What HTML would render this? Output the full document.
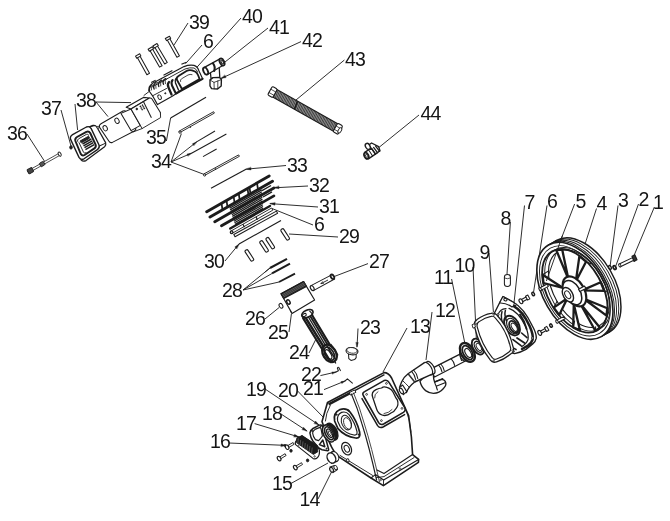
<!DOCTYPE html>
<html><head><meta charset="utf-8"><title>Exploded view</title>
<style>
html,body{margin:0;padding:0;background:#fff;}
svg{display:block;filter:grayscale(1);}
text{font-family:"Liberation Sans",sans-serif;font-size:19.5px;fill:#151515;letter-spacing:-0.8px;}
</style></head>
<body>
<svg width="670" height="521" viewBox="0 0 670 521">
<rect width="670" height="521" fill="#fff"/>
<g id="leaders">
<line x1="188.0" y1="23.0" x2="174.0" y2="45.0" stroke="#1c1c1c" stroke-width="0.92" />
<line x1="202.0" y1="45.0" x2="185.6" y2="63.6" stroke="#1c1c1c" stroke-width="0.92" />
<line x1="241.0" y1="18.0" x2="190.0" y2="75.0" stroke="#1c1c1c" stroke-width="0.92" />
<line x1="268.0" y1="28.0" x2="225.0" y2="62.0" stroke="#1c1c1c" stroke-width="0.92" />
<line x1="301.0" y1="41.6" x2="221.0" y2="78.5" stroke="#1c1c1c" stroke-width="0.92" />
<path d="M221.0,78.5 L226.1,77.6 L225.0,75.2 Z" fill="#1c1c1c" stroke="#1c1c1c" stroke-width="0.34" stroke-linejoin="round" stroke-linecap="round" />
<line x1="344.4" y1="60.0" x2="296.0" y2="100.0" stroke="#1c1c1c" stroke-width="0.92" />
<line x1="419.0" y1="115.0" x2="377.5" y2="148.6" stroke="#1c1c1c" stroke-width="0.92" />
<line x1="27.0" y1="134.0" x2="45.0" y2="162.0" stroke="#1c1c1c" stroke-width="0.92" />
<line x1="61.0" y1="110.0" x2="71.0" y2="146.0" stroke="#1c1c1c" stroke-width="0.92" />
<line x1="75.0" y1="104.0" x2="77.6" y2="130.0" stroke="#1c1c1c" stroke-width="0.92" />
<line x1="96.0" y1="102.0" x2="131.0" y2="102.6" stroke="#1c1c1c" stroke-width="0.92" />
<line x1="96.0" y1="102.0" x2="108.0" y2="116.6" stroke="#1c1c1c" stroke-width="0.92" />
<line x1="166.4" y1="141.0" x2="170.6" y2="118.0" stroke="#1c1c1c" stroke-width="0.92" />
<line x1="171.0" y1="162.0" x2="181.4" y2="133.6" stroke="#1c1c1c" stroke-width="0.92" />
<line x1="171.0" y1="162.0" x2="197.0" y2="141.6" stroke="#1c1c1c" stroke-width="0.92" />
<path d="M197.0,141.6 L192.4,143.8 L193.7,145.6 Z" fill="#1c1c1c" stroke="#1c1c1c" stroke-width="0.34" stroke-linejoin="round" stroke-linecap="round" />
<line x1="171.0" y1="162.0" x2="192.0" y2="153.0" stroke="#1c1c1c" stroke-width="0.92" />
<path d="M192.0,153.0 L187.0,154.0 L187.8,156.0 Z" fill="#1c1c1c" stroke="#1c1c1c" stroke-width="0.34" stroke-linejoin="round" stroke-linecap="round" />
<line x1="171.0" y1="162.0" x2="204.0" y2="174.4" stroke="#1c1c1c" stroke-width="0.92" />
<line x1="286.0" y1="165.5" x2="246.0" y2="169.2" stroke="#1c1c1c" stroke-width="0.92" />
<path d="M246.0,169.2 L251.1,170.0 L250.9,167.4 Z" fill="#1c1c1c" stroke="#1c1c1c" stroke-width="0.34" stroke-linejoin="round" stroke-linecap="round" />
<line x1="308.0" y1="186.0" x2="274.0" y2="187.8" stroke="#1c1c1c" stroke-width="0.92" />
<path d="M274.0,187.8 L279.1,188.8 L278.9,186.2 Z" fill="#1c1c1c" stroke="#1c1c1c" stroke-width="0.34" stroke-linejoin="round" stroke-linecap="round" />
<line x1="318.0" y1="207.0" x2="270.0" y2="203.6" stroke="#1c1c1c" stroke-width="0.92" />
<path d="M270.0,203.6 L274.9,205.3 L275.1,202.7 Z" fill="#1c1c1c" stroke="#1c1c1c" stroke-width="0.34" stroke-linejoin="round" stroke-linecap="round" />
<line x1="313.0" y1="225.0" x2="272.0" y2="208.5" stroke="#1c1c1c" stroke-width="0.92" />
<line x1="338.0" y1="237.0" x2="289.0" y2="234.0" stroke="#1c1c1c" stroke-width="0.92" />
<line x1="225.0" y1="261.0" x2="239.0" y2="244.0" stroke="#1c1c1c" stroke-width="0.92" />
<path d="M239.0,244.0 L234.8,247.0 L236.8,248.7 Z" fill="#1c1c1c" stroke="#1c1c1c" stroke-width="0.34" stroke-linejoin="round" stroke-linecap="round" />
<line x1="368.0" y1="263.6" x2="334.0" y2="276.6" stroke="#1c1c1c" stroke-width="0.92" />
<line x1="243.0" y1="290.0" x2="270.0" y2="268.0" stroke="#1c1c1c" stroke-width="0.92" />
<line x1="243.0" y1="290.0" x2="272.0" y2="273.5" stroke="#1c1c1c" stroke-width="0.92" />
<line x1="243.0" y1="290.0" x2="272.0" y2="283.6" stroke="#1c1c1c" stroke-width="0.92" />
<line x1="272.0" y1="283.6" x2="279.0" y2="282.0" stroke="#1c1c1c" stroke-width="0.92" />
<line x1="265.0" y1="319.0" x2="279.0" y2="307.6" stroke="#1c1c1c" stroke-width="0.92" />
<line x1="289.0" y1="332.0" x2="291.4" y2="314.0" stroke="#1c1c1c" stroke-width="0.92" />
<line x1="309.0" y1="353.0" x2="316.0" y2="339.0" stroke="#1c1c1c" stroke-width="0.92" />
<line x1="358.0" y1="328.5" x2="357.0" y2="347.0" stroke="#1c1c1c" stroke-width="0.92" />
<path d="M357.0,347.0 L358.3,342.6 L356.1,342.4 Z" fill="#1c1c1c" stroke="#1c1c1c" stroke-width="0.34" stroke-linejoin="round" stroke-linecap="round" />
<line x1="320.4" y1="375.6" x2="336.0" y2="372.0" stroke="#1c1c1c" stroke-width="0.92" />
<path d="M336.0,372.0 L331.9,371.9 L332.3,373.9 Z" fill="#1c1c1c" stroke="#1c1c1c" stroke-width="0.34" stroke-linejoin="round" stroke-linecap="round" />
<line x1="324.0" y1="389.6" x2="345.0" y2="381.0" stroke="#1c1c1c" stroke-width="0.92" />
<path d="M345.0,381.0 L340.9,381.6 L341.7,383.4 Z" fill="#1c1c1c" stroke="#1c1c1c" stroke-width="0.34" stroke-linejoin="round" stroke-linecap="round" />
<line x1="297.6" y1="391.0" x2="324.0" y2="418.0" stroke="#1c1c1c" stroke-width="0.92" />
<line x1="265.0" y1="389.0" x2="319.0" y2="425.0" stroke="#1c1c1c" stroke-width="0.92" />
<path d="M319.0,425.0 L315.6,421.1 L314.1,423.3 Z" fill="#1c1c1c" stroke="#1c1c1c" stroke-width="0.34" stroke-linejoin="round" stroke-linecap="round" />
<line x1="281.0" y1="414.0" x2="307.0" y2="431.0" stroke="#1c1c1c" stroke-width="0.92" />
<path d="M307.0,431.0 L303.5,427.2 L302.1,429.4 Z" fill="#1c1c1c" stroke="#1c1c1c" stroke-width="0.34" stroke-linejoin="round" stroke-linecap="round" />
<line x1="254.6" y1="423.6" x2="299.0" y2="437.0" stroke="#1c1c1c" stroke-width="0.92" />
<path d="M299.0,437.0 L294.6,434.3 L293.8,436.8 Z" fill="#1c1c1c" stroke="#1c1c1c" stroke-width="0.34" stroke-linejoin="round" stroke-linecap="round" />
<line x1="229.0" y1="443.0" x2="286.0" y2="445.4" stroke="#1c1c1c" stroke-width="0.92" />
<path d="M286.0,445.4 L281.1,443.9 L280.9,446.5 Z" fill="#1c1c1c" stroke="#1c1c1c" stroke-width="0.34" stroke-linejoin="round" stroke-linecap="round" />
<line x1="290.0" y1="484.0" x2="328.0" y2="463.0" stroke="#1c1c1c" stroke-width="0.92" />
<line x1="318.0" y1="499.0" x2="331.5" y2="472.0" stroke="#1c1c1c" stroke-width="0.92" />
<line x1="407.0" y1="328.0" x2="383.0" y2="372.0" stroke="#1c1c1c" stroke-width="0.92" />
<line x1="432.0" y1="312.0" x2="426.0" y2="360.0" stroke="#1c1c1c" stroke-width="0.92" />
<line x1="451.6" y1="279.0" x2="465.0" y2="344.0" stroke="#1c1c1c" stroke-width="0.92" />
<line x1="473.0" y1="267.0" x2="476.4" y2="340.0" stroke="#1c1c1c" stroke-width="0.92" />
<line x1="489.0" y1="253.0" x2="493.4" y2="312.0" stroke="#1c1c1c" stroke-width="0.92" />
<line x1="510.4" y1="222.0" x2="507.0" y2="274.0" stroke="#1c1c1c" stroke-width="0.92" />
<line x1="524.5" y1="205.5" x2="514.0" y2="303.0" stroke="#1c1c1c" stroke-width="0.92" />
<line x1="547.0" y1="205.5" x2="533.5" y2="292.5" stroke="#1c1c1c" stroke-width="0.92" />
<line x1="574.6" y1="204.0" x2="545.0" y2="281.0" stroke="#1c1c1c" stroke-width="0.92" />
<line x1="596.5" y1="208.5" x2="585.4" y2="243.0" stroke="#1c1c1c" stroke-width="0.92" />
<line x1="618.0" y1="205.5" x2="610.0" y2="267.0" stroke="#1c1c1c" stroke-width="0.92" />
<line x1="638.5" y1="204.0" x2="615.4" y2="267.0" stroke="#1c1c1c" stroke-width="0.92" />
<line x1="654.4" y1="207.0" x2="633.0" y2="258.0" stroke="#1c1c1c" stroke-width="0.92" />
</g>
<g id="top">
<path d="M166.7,39.1 L176.9,57.3 L179.5,55.9 L169.3,37.7 Z" fill="#fff" stroke="#1c1c1c" stroke-width="1.03" stroke-linejoin="round" stroke-linecap="round" />
<path d="M165.3,38.5 L166.5,40.6 L170.7,38.3 L169.5,36.2 Z" fill="#fff" stroke="#1c1c1c" stroke-width="1.03" stroke-linejoin="round" stroke-linecap="round" />
<path d="M149.5,49.7 L159.5,67.1 L162.1,65.7 L152.1,48.3 Z" fill="#fff" stroke="#1c1c1c" stroke-width="1.03" stroke-linejoin="round" stroke-linecap="round" />
<path d="M148.1,49.2 L149.3,51.2 L153.5,48.8 L152.3,46.8 Z" fill="#fff" stroke="#1c1c1c" stroke-width="1.03" stroke-linejoin="round" stroke-linecap="round" />
<path d="M154.3,46.6 L164.7,64.0 L167.3,62.4 L156.9,45.0 Z" fill="#fff" stroke="#1c1c1c" stroke-width="1.03" stroke-linejoin="round" stroke-linecap="round" />
<path d="M152.9,46.0 L154.2,48.1 L158.3,45.6 L157.0,43.5 Z" fill="#fff" stroke="#1c1c1c" stroke-width="1.03" stroke-linejoin="round" stroke-linecap="round" />
<path d="M136.9,56.7 L146.9,74.7 L149.5,73.3 L139.5,55.3 Z" fill="#fff" stroke="#1c1c1c" stroke-width="1.03" stroke-linejoin="round" stroke-linecap="round" />
<path d="M135.5,56.1 L136.7,58.2 L140.9,55.9 L139.7,53.8 Z" fill="#fff" stroke="#1c1c1c" stroke-width="1.03" stroke-linejoin="round" stroke-linecap="round" />
<path d="M148.7,90.5 L150.5,86 Q151,84 153,83 L184,66.6 Q189,64.6 194,65.4 Q197.5,66.5 199,71 L202.6,78.8 L180.3,91 L172.2,96.3 L157.5,104.6 L152.6,95.8 Z" fill="#fff" stroke="#1c1c1c" stroke-width="1.15" stroke-linejoin="round" stroke-linecap="round" />
<path d="M152,87 L185,69 Q190,67.2 194,68 Q196.5,69 197.6,72" fill="none" stroke="#1c1c1c" stroke-width="0.92" stroke-linejoin="round" stroke-linecap="round" />
<path d="M202.6,78.8 L180.3,91 L176,93.5" fill="none" stroke="#1c1c1c" stroke-width="2.07" stroke-linejoin="round" stroke-linecap="round" />
<path d="M177,80 Q176,77.4 178.5,76 L186.5,71 Q189,69.6 192,70.4 L195,71.5 Q197,72.6 198,75 L199.6,79 L182,89 Z" fill="none" stroke="#1c1c1c" stroke-width="1.84" stroke-linejoin="round" stroke-linecap="round" />
<path d="M180.5,81.5 Q180,79.8 181.5,78.8 L188,75 Q190,74 192,74.6" fill="none" stroke="#1c1c1c" stroke-width="0.8" stroke-linejoin="round" stroke-linecap="round" />
<path d="M169,82 Q167,84 168.5,87.5 L171.5,94.5" fill="none" stroke="#1c1c1c" stroke-width="2.3" stroke-linejoin="round" stroke-linecap="round" />
<path d="M172.6,80 Q170.8,82 172,85.5 L175.5,92.8" fill="none" stroke="#1c1c1c" stroke-width="2.07" stroke-linejoin="round" stroke-linecap="round" />
<path d="M176,78.4 Q174.6,80 175.5,83 L178.5,90" fill="none" stroke="#1c1c1c" stroke-width="1.38" stroke-linejoin="round" stroke-linecap="round" />
<path d="M149.6,90.6 Q148.0,87.0 151.6,84.6" fill="none" stroke="#1c1c1c" stroke-width="1.38" stroke-linejoin="round" stroke-linecap="round" />
<path d="M151.4,90.0 Q150.0,86.6 153.2,84.39999999999999" fill="none" stroke="#1c1c1c" stroke-width="0.8" stroke-linejoin="round" stroke-linecap="round" />
<path d="M154.1,89 Q152.5,85.0 156.1,82.2" fill="none" stroke="#1c1c1c" stroke-width="1.38" stroke-linejoin="round" stroke-linecap="round" />
<path d="M155.9,88.4 Q154.5,84.6 157.7,82.0" fill="none" stroke="#1c1c1c" stroke-width="0.8" stroke-linejoin="round" stroke-linecap="round" />
<path d="M158.8,86.6 Q157.20000000000002,82.8 161.5,80.2" fill="none" stroke="#1c1c1c" stroke-width="1.38" stroke-linejoin="round" stroke-linecap="round" />
<path d="M160.60000000000002,86.0 Q159.20000000000002,82.4 163.1,80.0" fill="none" stroke="#1c1c1c" stroke-width="0.8" stroke-linejoin="round" stroke-linecap="round" />
<path d="M163.5,84.3 Q161.9,80.8 165.6,78.6" fill="none" stroke="#1c1c1c" stroke-width="1.38" stroke-linejoin="round" stroke-linecap="round" />
<path d="M165.3,83.7 Q163.9,80.4 167.2,78.39999999999999" fill="none" stroke="#1c1c1c" stroke-width="0.8" stroke-linejoin="round" stroke-linecap="round" />
<path d="M152.6,95.8 L166.5,88.5" fill="none" stroke="#1c1c1c" stroke-width="0.92" stroke-linejoin="round" stroke-linecap="round" />
<ellipse cx="159.6" cy="97.2" rx="1.6" ry="2.4" transform="rotate(-25 159.6 97.2)" fill="#fff" stroke="#1c1c1c" stroke-width="0.92" />
<ellipse cx="165.3" cy="93.3" rx="0.6" ry="0.6" transform="rotate(0 165.3 93.3)" fill="#1c1c1c" stroke="#1c1c1c" stroke-width="0.92" />
<line x1="151.2" y1="82.4" x2="155.6" y2="80.2" stroke="#1c1c1c" stroke-width="1.15" />
<line x1="163.5" y1="75.2" x2="172.4" y2="70.6" stroke="#1c1c1c" stroke-width="1.15" />
<line x1="181.4" y1="64.3" x2="186.5" y2="62.2" stroke="#1c1c1c" stroke-width="1.15" />
<path d="M210.2,70.5 L211.0,78.4 L219.8,77.6 L219.2,67.0 Z" fill="#fff" stroke="#1c1c1c" stroke-width="1.26" stroke-linejoin="round" stroke-linecap="round" />
<path d="M204.4,67.4 L220.4,58.6 L223.6,65.0 L207.0,74.8 Z" fill="#fff" stroke="#1c1c1c" stroke-width="1.26" stroke-linejoin="round" stroke-linecap="round" />
<ellipse cx="205.6" cy="71.0" rx="2.1" ry="3.8" transform="rotate(-25 205.6 71.0)" fill="#fff" stroke="#1c1c1c" stroke-width="1.84" />
<ellipse cx="222.0" cy="62.0" rx="2.2" ry="3.9" transform="rotate(-25 222.0 62.0)" fill="#fff" stroke="#1c1c1c" stroke-width="1.72" />
<ellipse cx="222.2" cy="62.0" rx="1.0" ry="2.1" transform="rotate(-25 222.2 62.0)" fill="#fff" stroke="#1c1c1c" stroke-width="1.15" />
<path d="M213,63.4 Q215.6,66.6 214.2,71" fill="none" stroke="#1c1c1c" stroke-width="2.07" stroke-linejoin="round" stroke-linecap="round" />
<path d="M210.0,80.0 L213.0,77.6 L219.4,77.4 L221.4,79.6 L221.2,86.0 L217.6,89.0 L211.6,88.6 L210.0,86.0 Z" fill="#fff" stroke="#1c1c1c" stroke-width="1.38" stroke-linejoin="round" stroke-linecap="round" />
<path d="M210,80 L214,82.4 L221.4,79.6 M214,82.4 L214.2,88.8 M217.8,81 L217.8,88.6" fill="none" stroke="#1c1c1c" stroke-width="0.8" stroke-linejoin="round" stroke-linecap="round" />
<g transform="rotate(29.40 305.2 110.4)">
<rect x="269.8" y="106.1" width="70.8" height="8.6" fill="#a4a4a4" stroke="none"/>
<path d="M270.2,106.1 l1.3,8.6 M271.8,106.1 l1.3,8.6 M273.3,106.1 l1.3,8.6 M274.9,106.1 l1.3,8.6 M276.4,106.1 l1.3,8.6 M278.0,106.1 l1.3,8.6 M279.5,106.1 l1.3,8.6 M281.1,106.1 l1.3,8.6 M282.6,106.1 l1.3,8.6 M284.2,106.1 l1.3,8.6 M285.7,106.1 l1.3,8.6 M287.3,106.1 l1.3,8.6 M288.8,106.1 l1.3,8.6 M290.4,106.1 l1.3,8.6 M291.9,106.1 l1.3,8.6 M293.5,106.1 l1.3,8.6 M295.0,106.1 l1.3,8.6 M296.6,106.1 l1.3,8.6 M298.1,106.1 l1.3,8.6 M299.7,106.1 l1.3,8.6 M301.2,106.1 l1.3,8.6 M302.8,106.1 l1.3,8.6 M304.3,106.1 l1.3,8.6 M305.9,106.1 l1.3,8.6 M307.4,106.1 l1.3,8.6 M309.0,106.1 l1.3,8.6 M310.5,106.1 l1.3,8.6 M312.1,106.1 l1.3,8.6 M313.6,106.1 l1.3,8.6 M315.2,106.1 l1.3,8.6 M316.7,106.1 l1.3,8.6 M318.3,106.1 l1.3,8.6 M319.8,106.1 l1.3,8.6 M321.4,106.1 l1.3,8.6 M322.9,106.1 l1.3,8.6 M324.5,106.1 l1.3,8.6 M326.0,106.1 l1.3,8.6 M327.6,106.1 l1.3,8.6 M329.1,106.1 l1.3,8.6 M330.7,106.1 l1.3,8.6 M332.2,106.1 l1.3,8.6 M333.8,106.1 l1.3,8.6 M335.3,106.1 l1.3,8.6 M336.9,106.1 l1.3,8.6 M338.4,106.1 l1.3,8.6" stroke="#2a2a2a" stroke-width="0.75" fill="none"/>
<rect x="269.8" y="106.1" width="70.8" height="8.6" fill="none" stroke="#1c1c1c" stroke-width="1.1"/>
<line x1="294.0" y1="106.1" x2="295.3" y2="114.7" stroke="#1c1c1c" stroke-width="1.5"/>
<rect x="264.8" y="105.5" width="5.8" height="9.8" rx="1.4" fill="#fff" stroke="#1c1c1c" stroke-width="1.1"/>
<line x1="264.8" y1="108.8" x2="270.6" y2="108.8" stroke="#1c1c1c" stroke-width="0.7"/>
<line x1="264.8" y1="112.6" x2="270.6" y2="112.6" stroke="#1c1c1c" stroke-width="0.7"/>
<rect x="339.8" y="105.5" width="5.8" height="9.8" rx="1.4" fill="#fff" stroke="#1c1c1c" stroke-width="1.1"/>
<line x1="339.8" y1="108.8" x2="345.6" y2="108.8" stroke="#1c1c1c" stroke-width="0.7"/>
<line x1="339.8" y1="112.6" x2="345.6" y2="112.6" stroke="#1c1c1c" stroke-width="0.7"/>
<ellipse cx="345.2" cy="110.8" rx="1.5" ry="3.0" fill="#fff" stroke="#1c1c1c" stroke-width="0.9"/>
</g>
<path d="M366.6,146.4 L371.6,143.0 L378.6,146.6 L380.0,150.8 L375.0,154.4 L369.6,150.0 Z" fill="#fff" stroke="#1c1c1c" stroke-width="1.38" stroke-linejoin="round" stroke-linecap="round" />
<path d="M364.6,152.4 L371.4,148.2 L375.4,154.2 L368.4,158.8 Z" fill="#fff" stroke="#1c1c1c" stroke-width="1.38" stroke-linejoin="round" stroke-linecap="round" />
<ellipse cx="366.4" cy="155.8" rx="2.1" ry="3.3" transform="rotate(-25 366.4 155.8)" fill="#fff" stroke="#1c1c1c" stroke-width="1.72" />
<ellipse cx="366.6" cy="155.9" rx="0.9" ry="1.7" transform="rotate(-25 366.6 155.9)" fill="#fff" stroke="#1c1c1c" stroke-width="0.8" />
<ellipse cx="367.8" cy="146.4" rx="2.2" ry="3.3" transform="rotate(-30 367.8 146.4)" fill="#fff" stroke="#1c1c1c" stroke-width="1.38" />
<path d="M371.6,148.6 L375.6,154 M373.6,147.4 L377.6,152.8 M375.6,146 L379.6,151.4" fill="none" stroke="#1c1c1c" stroke-width="1.26" stroke-linejoin="round" stroke-linecap="round" />
<path d="M369.2,150.8 L372.6,156" fill="none" stroke="#1c1c1c" stroke-width="1.03" stroke-linejoin="round" stroke-linecap="round" />
<g transform="rotate(-29.36 44 163)">
<rect x="26" y="161.9" width="36" height="2.2" fill="#fff" stroke="#1c1c1c" stroke-width="0.7"/>
<rect x="25.6" y="160.6" width="5.4" height="4.8" rx="1" fill="#444" stroke="#1c1c1c" stroke-width="0.9"/>
<rect x="39.6" y="161" width="4.6" height="4" rx="0.8" fill="#555" stroke="#1c1c1c" stroke-width="0.8"/>
<ellipse cx="62" cy="163" rx="1.3" ry="2.3" fill="#fff" stroke="#1c1c1c" stroke-width="1.0"/>
</g>
<ellipse cx="71.0" cy="147.4" rx="1.3" ry="1.7" transform="rotate(0 71.0 147.4)" fill="#1c1c1c" stroke="#1c1c1c" stroke-width="0.92" />
<path d="M88.8,127.2 L93,125.4 Q95.4,124.8 96.8,127 L105.6,142.6 Q106.4,145 104.6,146.8 L86,160.6 Q83,162 81,159.8" fill="#fff" stroke="#1c1c1c" stroke-width="1.26" stroke-linejoin="round" stroke-linecap="round" />
<path d="M70.6,139.4 Q69.6,136.4 72.6,134.6 L86.4,127 Q89.6,125.8 91.2,128.6 L99,145 Q100,148 97.4,149.6 L84,158.8 Q80.8,160.4 79,157.4 Z" fill="#fff" stroke="#1c1c1c" stroke-width="1.38" stroke-linejoin="round" stroke-linecap="round" />
<line x1="90.4" y1="126.6" x2="95.2" y2="125.6" stroke="#1c1c1c" stroke-width="1.03" />
<line x1="99.4" y1="146.0" x2="105.2" y2="143.4" stroke="#1c1c1c" stroke-width="1.03" />
<path d="M75.4,141 Q74.6,138.4 77,137 L86.4,131.8 Q88.8,130.8 90.2,133 L95.6,144.6 Q96.4,147 94.4,148.4 L84.6,155 Q82.2,156.2 80.8,154 Z" fill="#fff" stroke="#1c1c1c" stroke-width="1.95" stroke-linejoin="round" stroke-linecap="round" />
<path d="M77.6,141.4 Q77,139.8 78.6,138.8 L86.4,134.4 Q87.8,133.8 88.8,135.2" fill="none" stroke="#1c1c1c" stroke-width="0.92" stroke-linejoin="round" stroke-linecap="round" />
<path d="M79,142.6 L83.6,152.4 Q84.6,153.6 86,152.8" fill="none" stroke="#1c1c1c" stroke-width="0.92" stroke-linejoin="round" stroke-linecap="round" />
<path d="M80.4,140.8 L88.6,136.2 L89.6,138.2 L81.6,142.8 Z" fill="#222" stroke="#1c1c1c" stroke-width="0.92" stroke-linejoin="round" stroke-linecap="round" />
<line x1="82.5" y1="144.0" x2="91.3" y2="139.0" stroke="#1c1c1c" stroke-width="1.49" />
<line x1="83.5" y1="145.8" x2="92.3" y2="140.8" stroke="#1c1c1c" stroke-width="1.49" />
<line x1="84.5" y1="147.7" x2="93.3" y2="142.7" stroke="#1c1c1c" stroke-width="1.49" />
<line x1="85.4" y1="149.6" x2="94.2" y2="144.6" stroke="#1c1c1c" stroke-width="1.49" />
<path d="M99.6,127.4 Q98.6,125.2 101,123.8 L123,111 Q125.4,110 126.8,112 L135.6,127.6 Q136.4,129.8 134.4,131 L112.4,142.4 Q110,143.2 108.8,141 Z" fill="#fff" stroke="#1c1c1c" stroke-width="1.03" stroke-linejoin="round" stroke-linecap="round" />
<ellipse cx="105.2" cy="128.2" rx="2.0" ry="2.8" transform="rotate(-28 105.2 128.2)" fill="#fff" stroke="#1c1c1c" stroke-width="0.92" />
<ellipse cx="117.0" cy="120.8" rx="2.0" ry="2.8" transform="rotate(-28 117.0 120.8)" fill="#fff" stroke="#1c1c1c" stroke-width="0.92" />
<ellipse cx="98.0" cy="127.4" rx="0.9" ry="1.2" transform="rotate(0 98.0 127.4)" fill="#fff" stroke="#1c1c1c" stroke-width="0.92" />
<path d="M121.0,113.4 L131.0,109.0 L140.4,125.4 L131.0,130.6 Z" fill="#fff" stroke="#1c1c1c" stroke-width="1.03" stroke-linejoin="round" stroke-linecap="round" />
<path d="M126.2,107.2 L143.4,97.4 L149.4,98.0 L131.0,109.0 Z" fill="#fff" stroke="#1c1c1c" stroke-width="1.15" stroke-linejoin="round" stroke-linecap="round" />
<path d="M131,109 L149.4,98 Q151,97.6 152,99 L160.4,112.6 Q161,114.4 159.6,115.4 L141,126 Q140.6,126 140.4,125.4 Z" fill="#fff" stroke="#1c1c1c" stroke-width="1.03" stroke-linejoin="round" stroke-linecap="round" />
<path d="M140.4,125.4 L142,128.6 L160.6,117.6 L160.4,112.6" fill="#fff" stroke="#1c1c1c" stroke-width="0.92" stroke-linejoin="round" stroke-linecap="round" />
<path d="M131,130.6 L133,132 L142,128.6" fill="none" stroke="#1c1c1c" stroke-width="0.92" stroke-linejoin="round" stroke-linecap="round" />
<line x1="143.4" y1="101.4" x2="151.4" y2="117.8" stroke="#1c1c1c" stroke-width="1.03" />
<ellipse cx="136.8" cy="109.0" rx="0.9" ry="0.9" transform="rotate(0 136.8 109.0)" fill="#1c1c1c" stroke="#1c1c1c" stroke-width="0.69" />
<ellipse cx="140.4" cy="106.4" rx="0.6" ry="0.6" transform="rotate(0 140.4 106.4)" fill="#1c1c1c" stroke="#1c1c1c" stroke-width="0.46" />
<ellipse cx="142.5" cy="105.2" rx="0.6" ry="0.6" transform="rotate(0 142.5 105.2)" fill="#1c1c1c" stroke="#1c1c1c" stroke-width="0.46" />
<ellipse cx="141.3" cy="108.0" rx="0.6" ry="0.6" transform="rotate(0 141.3 108.0)" fill="#1c1c1c" stroke="#1c1c1c" stroke-width="0.46" />
<ellipse cx="143.4" cy="106.8" rx="0.6" ry="0.6" transform="rotate(0 143.4 106.8)" fill="#1c1c1c" stroke="#1c1c1c" stroke-width="0.46" />
<ellipse cx="142.2" cy="109.6" rx="0.6" ry="0.6" transform="rotate(0 142.2 109.6)" fill="#1c1c1c" stroke="#1c1c1c" stroke-width="0.46" />
<ellipse cx="144.3" cy="108.4" rx="0.6" ry="0.6" transform="rotate(0 144.3 108.4)" fill="#1c1c1c" stroke="#1c1c1c" stroke-width="0.46" />
<path d="M149,91.6 L144,95.4" fill="none" stroke="#1c1c1c" stroke-width="0.92" stroke-linejoin="round" stroke-linecap="round" />
<line x1="170.6" y1="118.0" x2="206.0" y2="97.2" stroke="#1c1c1c" stroke-width="1.15" />
<path d="M180.0,132.5 L214.4,113.1 L213.6,111.7 L179.2,131.1 Z" fill="#fff" stroke="#1c1c1c" stroke-width="0.92" stroke-linejoin="round" stroke-linecap="round" />
<ellipse cx="180.0" cy="132.2" rx="1.1" ry="1.1" transform="rotate(0 180.0 132.2)" fill="#fff" stroke="#1c1c1c" stroke-width="0.92" />
<line x1="190.0" y1="126.6" x2="190.8" y2="127.6" stroke="#1c1c1c" stroke-width="1.03" />
<path d="M204.8,175.3 L239.4,156.3 L238.6,154.9 L204.0,173.9 Z" fill="#fff" stroke="#1c1c1c" stroke-width="0.92" stroke-linejoin="round" stroke-linecap="round" />
<ellipse cx="204.6" cy="175.0" rx="1.1" ry="1.1" transform="rotate(0 204.6 175.0)" fill="#fff" stroke="#1c1c1c" stroke-width="0.92" />
<line x1="215.0" y1="168.4" x2="215.8" y2="169.6" stroke="#1c1c1c" stroke-width="1.03" />
<line x1="197.0" y1="141.6" x2="215.0" y2="131.0" stroke="#1c1c1c" stroke-width="1.03" />
<line x1="192.0" y1="153.0" x2="226.4" y2="134.0" stroke="#1c1c1c" stroke-width="1.03" />
<line x1="203.0" y1="156.6" x2="216.6" y2="149.0" stroke="#1c1c1c" stroke-width="1.03" />
<line x1="211.0" y1="188.2" x2="246.0" y2="169.2" stroke="#1c1c1c" stroke-width="1.15" />
</g>
<g id="mid">
<line x1="229.6" y1="208.3" x2="261.8" y2="189.9" stroke="#1c1c1c" stroke-width="1.32" />
<line x1="230.1" y1="209.9" x2="261.9" y2="191.8" stroke="#1c1c1c" stroke-width="1.32" />
<line x1="230.7" y1="211.5" x2="262.1" y2="193.6" stroke="#1c1c1c" stroke-width="1.32" />
<line x1="231.2" y1="213.1" x2="262.2" y2="195.4" stroke="#1c1c1c" stroke-width="1.32" />
<line x1="231.8" y1="214.7" x2="262.3" y2="197.3" stroke="#1c1c1c" stroke-width="1.32" />
<line x1="232.3" y1="216.4" x2="262.4" y2="199.1" stroke="#1c1c1c" stroke-width="1.32" />
<line x1="232.8" y1="218.0" x2="262.6" y2="201.0" stroke="#1c1c1c" stroke-width="1.32" />
<line x1="233.4" y1="219.6" x2="262.7" y2="202.8" stroke="#1c1c1c" stroke-width="1.32" />
<line x1="233.9" y1="221.2" x2="262.8" y2="204.7" stroke="#1c1c1c" stroke-width="1.32" />
<line x1="234.5" y1="222.8" x2="263.0" y2="206.5" stroke="#1c1c1c" stroke-width="1.32" />
<line x1="235.0" y1="224.4" x2="263.1" y2="208.4" stroke="#1c1c1c" stroke-width="1.32" />
<line x1="206.7" y1="211.7" x2="269.2" y2="176.0" stroke="#1c1c1c" stroke-width="2.88" stroke-linecap="round"/>
<line x1="210.0" y1="217.0" x2="272.5" y2="181.3" stroke="#1c1c1c" stroke-width="2.88" stroke-linecap="round"/>
<line x1="214.8" y1="221.7" x2="273.9" y2="188.0" stroke="#1c1c1c" stroke-width="2.88" stroke-linecap="round"/>
<line x1="221.5" y1="225.8" x2="273.9" y2="195.9" stroke="#1c1c1c" stroke-width="2.76" stroke-linecap="round"/>
<line x1="230.2" y1="228.6" x2="270.0" y2="205.9" stroke="#1c1c1c" stroke-width="2.3" stroke-linecap="round"/>
<line x1="221.5" y1="203.2" x2="222.5" y2="209.8" stroke="#1c1c1c" stroke-width="1.72" />
<line x1="226.5" y1="200.4" x2="227.5" y2="207.0" stroke="#1c1c1c" stroke-width="1.72" />
<line x1="233.6" y1="196.3" x2="234.6" y2="202.9" stroke="#1c1c1c" stroke-width="1.72" />
<line x1="238.7" y1="193.4" x2="239.7" y2="200.0" stroke="#1c1c1c" stroke-width="1.72" />
<line x1="247.5" y1="188.4" x2="248.5" y2="195.0" stroke="#1c1c1c" stroke-width="1.72" />
<line x1="249.5" y1="187.3" x2="250.5" y2="193.9" stroke="#1c1c1c" stroke-width="1.72" />
<line x1="257.0" y1="183.0" x2="258.0" y2="189.6" stroke="#1c1c1c" stroke-width="1.72" />
<line x1="262.0" y1="190.6" x2="271.0" y2="185.5" stroke="#1c1c1c" stroke-width="1.26" />
<line x1="263.0" y1="197.0" x2="272.0" y2="191.9" stroke="#1c1c1c" stroke-width="1.26" />
<path d="M231.0,231.0 L271.6,208.0 L272.8,210.2 L232.4,233.2 Z" fill="#fff" stroke="#1c1c1c" stroke-width="0.92" stroke-linejoin="round" stroke-linecap="round" />
<ellipse cx="231.6" cy="232.2" rx="1.3" ry="1.3" transform="rotate(0 231.6 232.2)" fill="#fff" stroke="#1c1c1c" stroke-width="1.26" />
<line x1="243.0" y1="224.2" x2="244.4" y2="227.2" stroke="#1c1c1c" stroke-width="1.15" />
<line x1="256.0" y1="216.8" x2="257.4" y2="219.8" stroke="#1c1c1c" stroke-width="1.15" />
<path d="M235.0,236.7 L277.6,213.3 L276.4,211.1 L233.8,234.5 Z" fill="#fff" stroke="#1c1c1c" stroke-width="1.03" stroke-linejoin="round" stroke-linecap="round" />
<line x1="239.0" y1="244.0" x2="281.0" y2="220.4" stroke="#1c1c1c" stroke-width="1.15" />
<rect x="278.9" y="232.8" width="12.6" height="3.3" rx="1.3" transform="rotate(57 285.2 234.4)" fill="#fff" stroke="#1c1c1c" stroke-width="1.1"/>
<rect x="257.8" y="244.8" width="12.6" height="3.3" rx="1.3" transform="rotate(57 264.1 246.4)" fill="#fff" stroke="#1c1c1c" stroke-width="1.1"/>
<rect x="263.9" y="241.5" width="12.6" height="3.3" rx="1.3" transform="rotate(57 270.2 243.2)" fill="#fff" stroke="#1c1c1c" stroke-width="1.1"/>
<rect x="243.1" y="253.8" width="12.6" height="3.3" rx="1.3" transform="rotate(57 249.4 255.4)" fill="#fff" stroke="#1c1c1c" stroke-width="1.1"/>
<line x1="270.0" y1="268.0" x2="287.0" y2="258.8" stroke="#1c1c1c" stroke-width="2.07" />
<line x1="272.0" y1="273.4" x2="290.0" y2="263.6" stroke="#1c1c1c" stroke-width="2.07" />
<line x1="279.0" y1="282.0" x2="295.0" y2="273.6" stroke="#1c1c1c" stroke-width="1.84" />
<line x1="265.0" y1="272.0" x2="270.0" y2="268.0" stroke="#1c1c1c" stroke-width="0.92" />
<path d="M281.0,293.8 L303.6,281.6 L314.6,300.0 L292.0,313.4 Z" fill="#fff" stroke="#1c1c1c" stroke-width="1.15" stroke-linejoin="round" stroke-linecap="round" />
<path d="M281.0,293.8 L303.6,281.6 L306.4,286.4 L283.8,298.6 Z" fill="#222" stroke="#1c1c1c" stroke-width="1.15" stroke-linejoin="round" stroke-linecap="round" />
<line x1="282.2" y1="294.7" x2="304.0" y2="282.8" stroke="#999" stroke-width="0.46" />
<line x1="282.9" y1="295.8" x2="304.7" y2="283.9" stroke="#999" stroke-width="0.46" />
<line x1="283.6" y1="296.9" x2="305.4" y2="285.0" stroke="#999" stroke-width="0.46" />
<ellipse cx="288.4" cy="302.0" rx="1.5" ry="2.3" transform="rotate(-30 288.4 302.0)" fill="#fff" stroke="#1c1c1c" stroke-width="1.49" />
<path d="M290.6,311 L291.6,313.2" fill="none" stroke="#1c1c1c" stroke-width="0.92" stroke-linejoin="round" stroke-linecap="round" />
<ellipse cx="281.0" cy="305.8" rx="1.7" ry="2.5" transform="rotate(-30 281.0 305.8)" fill="#fff" stroke="#1c1c1c" stroke-width="1.03" />
<path d="M311.0,285.6 L332.6,274.4 L334.6,279.0 L313.4,290.6 Z" fill="#fff" stroke="#1c1c1c" stroke-width="1.03" stroke-linejoin="round" stroke-linecap="round" />
<ellipse cx="312.2" cy="288.1" rx="1.6" ry="2.7" transform="rotate(-30 312.2 288.1)" fill="#fff" stroke="#1c1c1c" stroke-width="1.15" />
<ellipse cx="332.4" cy="276.8" rx="1.5" ry="2.5" transform="rotate(-30 332.4 276.8)" fill="#fff" stroke="#1c1c1c" stroke-width="1.84" />
<line x1="321.0" y1="283.6" x2="328.0" y2="280.0" stroke="#1c1c1c" stroke-width="0.92" />
<path d="M321,283.6 l2.6,-0.2 M321,283.6 l1.6,-2" fill="none" stroke="#1c1c1c" stroke-width="0.69" stroke-linejoin="round" stroke-linecap="round" />
<path d="M303.1,318.1 L311.4,314.0 L330.8,346.2 L322.2,349.2 Z" fill="#fff" stroke="#1c1c1c" stroke-width="2.18" stroke-linejoin="round" stroke-linecap="round" />
<line x1="305.4" y1="317.4" x2="324.6" y2="348.4" stroke="#1c1c1c" stroke-width="2.53" />
<line x1="307.8" y1="316.0" x2="326.8" y2="347.6" stroke="#1c1c1c" stroke-width="1.38" />
<line x1="309.6" y1="315.0" x2="328.8" y2="346.8" stroke="#1c1c1c" stroke-width="1.84" />
<ellipse cx="307.4" cy="313.6" rx="6.0" ry="3.5" transform="rotate(-25 307.4 313.6)" fill="#fff" stroke="#1c1c1c" stroke-width="1.72" />
<ellipse cx="304.4" cy="315.0" rx="2.0" ry="1.4" transform="rotate(-25 304.4 315.0)" fill="#fff" stroke="#1c1c1c" stroke-width="1.03" />
<path d="M309.6,311 Q311.6,312.6 312.8,315" fill="none" stroke="#1c1c1c" stroke-width="1.03" stroke-linejoin="round" stroke-linecap="round" />
<ellipse cx="329.5" cy="353.4" rx="6.4" ry="9.4" transform="rotate(-32 329.5 353.4)" fill="#fff" stroke="#1c1c1c" stroke-width="2.3" />
<ellipse cx="329.3" cy="353.6" rx="4.2" ry="7.2" transform="rotate(-32 329.3 353.6)" fill="#fff" stroke="#1c1c1c" stroke-width="1.72" />
<ellipse cx="328.4" cy="354.4" rx="2.4" ry="5.2" transform="rotate(-32 328.4 354.4)" fill="#fff" stroke="#1c1c1c" stroke-width="1.15" />
<path d="M322.8,348.4 L330.4,361 M327,346 L335.6,359.4 M331,344.6 L337.6,355" fill="none" stroke="#1c1c1c" stroke-width="1.49" stroke-linejoin="round" stroke-linecap="round" />
<path d="M330.6,362.6 L334.6,361.2 L335.6,363" fill="none" stroke="#1c1c1c" stroke-width="1.38" stroke-linejoin="round" stroke-linecap="round" />
<path d="M348.4,352.0 L348.8,358.6 L351.0,360.4 L354.6,359.6 L356.2,357.6 L356.0,351.0 Z" fill="#fff" stroke="#1c1c1c" stroke-width="1.03" stroke-linejoin="round" stroke-linecap="round" />
<ellipse cx="352.0" cy="351.2" rx="6.0" ry="3.6" transform="rotate(8 352.0 351.2)" fill="#fff" stroke="#1c1c1c" stroke-width="1.15" />
<ellipse cx="352.0" cy="350.4" rx="5.2" ry="2.8" transform="rotate(8 352.0 350.4)" fill="#fff" stroke="#1c1c1c" stroke-width="0.8" />
<path d="M336,372 L338.4,370.8 L337.4,368.2 Q337.6,367 338.8,367.4 L340.4,370.6" fill="none" stroke="#1c1c1c" stroke-width="1.03" stroke-linejoin="round" stroke-linecap="round" />
<path d="M345,381 L347.4,378.8 L352.4,383.2" fill="none" stroke="#1c1c1c" stroke-width="1.03" stroke-linejoin="round" stroke-linecap="round" />
</g>
<g id="bottom">
<path d="M327.5,402.5 L384,372.6 Q388.6,372.6 391.6,378 L408.6,415.6 L411.4,437 L412.6,454.6 L418.6,459.4 L418.4,462.4 L383.4,485.6 L371,478 L337,455.6 Q331,448 327,436 L322,421.6 Z" fill="#fff" stroke="#1c1c1c" stroke-width="1.61" stroke-linejoin="round" stroke-linecap="round" />
<line x1="328.6" y1="404.4" x2="351.0" y2="392.6" stroke="#1c1c1c" stroke-width="2.53" />
<line x1="351.0" y1="392.6" x2="384.4" y2="374.6" stroke="#1c1c1c" stroke-width="1.38" />
<path d="M349.4,392.6 L354.4,390.0 L356.0,392.2 L351.0,395.0 Z" fill="#fff" stroke="#1c1c1c" stroke-width="0.92" stroke-linejoin="round" stroke-linecap="round" />
<path d="M351.4,394 Q357.6,408 362,424 Q369,446 376.6,480" fill="none" stroke="#1c1c1c" stroke-width="1.15" stroke-linejoin="round" stroke-linecap="round" />
<path d="M353.6,393 Q360,408 364.4,424 Q371.4,446 379.4,481.6" fill="none" stroke="#1c1c1c" stroke-width="0.8" stroke-linejoin="round" stroke-linecap="round" />
<path d="M330.4,405 Q325.6,414 325.4,421" fill="none" stroke="#1c1c1c" stroke-width="0.92" stroke-linejoin="round" stroke-linecap="round" />
<path d="M340,455.4 L372.6,475.4" fill="none" stroke="#1c1c1c" stroke-width="0.92" stroke-linejoin="round" stroke-linecap="round" />
<path d="M363.6,396 Q361.6,393.2 364.6,391.6 L384,380.6 Q387.4,379.4 389,382.4 L404.6,407.4 Q406.2,410.6 403.4,412.4 L383.6,424 Q380.4,425.4 378.6,422.6 Z" fill="#fff" stroke="#1c1c1c" stroke-width="1.61" stroke-linejoin="round" stroke-linecap="round" />
<path d="M362,398.6 L377.6,425.6 Q379.6,428.4 383,427 L404.6,414.6" fill="none" stroke="#1c1c1c" stroke-width="1.49" stroke-linejoin="round" stroke-linecap="round" />
<path d="M372.6,397 Q371,392 376,389.6 Q379,388.4 381.6,388 Q383.6,386 387,387.4 Q392,389 394,394 Q395.4,397.4 397.4,400 Q399,405 396,408.6 Q394.6,411.6 391,413 Q386.6,416.6 382,415 Q378,413.6 376.6,409 Z" fill="#fff" stroke="#1c1c1c" stroke-width="1.26" stroke-linejoin="round" stroke-linecap="round" />
<path d="M374.6,398 Q374,394 378,391.6 M384,413.6 Q389,413 392,409.6" fill="none" stroke="#1c1c1c" stroke-width="0.8" stroke-linejoin="round" stroke-linecap="round" />
<ellipse cx="366.6" cy="394.4" rx="0.9" ry="0.9" transform="rotate(0 366.6 394.4)" fill="#fff" stroke="#1c1c1c" stroke-width="0.8" />
<ellipse cx="386.4" cy="383.4" rx="0.9" ry="0.9" transform="rotate(0 386.4 383.4)" fill="#fff" stroke="#1c1c1c" stroke-width="0.8" />
<ellipse cx="402.0" cy="408.4" rx="0.9" ry="0.9" transform="rotate(0 402.0 408.4)" fill="#fff" stroke="#1c1c1c" stroke-width="0.8" />
<ellipse cx="381.4" cy="420.6" rx="0.9" ry="0.9" transform="rotate(0 381.4 420.6)" fill="#fff" stroke="#1c1c1c" stroke-width="0.8" />
<path d="M412.6,454.6 L384,473.6 L377,470" fill="none" stroke="#1c1c1c" stroke-width="1.15" stroke-linejoin="round" stroke-linecap="round" />
<path d="M406.4,411 Q410,420 411,432" fill="none" stroke="#1c1c1c" stroke-width="0.8" stroke-linejoin="round" stroke-linecap="round" />
<path d="M371,478 L375.4,474.6 L383.6,480 L418.6,459.4" fill="none" stroke="#1c1c1c" stroke-width="1.15" stroke-linejoin="round" stroke-linecap="round" />
<path d="M383.6,480 L383.4,485.4" fill="none" stroke="#1c1c1c" stroke-width="0.92" stroke-linejoin="round" stroke-linecap="round" />
<path d="M376.4,477.6 L384,476.6 L414,457.6" fill="none" stroke="#1c1c1c" stroke-width="0.92" stroke-linejoin="round" stroke-linecap="round" />
<ellipse cx="380.6" cy="480.0" rx="0.9" ry="0.7" transform="rotate(0 380.6 480.0)" fill="#fff" stroke="#1c1c1c" stroke-width="0.69" />
<ellipse cx="400.0" cy="468.6" rx="0.9" ry="0.7" transform="rotate(0 400.0 468.6)" fill="#fff" stroke="#1c1c1c" stroke-width="0.69" />
<path d="M334.6,421 Q333,413 340,409.6 Q346,407.4 350,412 Q357,421 359.6,432 Q361,438.6 355.6,438 Q345,436.6 338,428.6 Z" fill="#fff" stroke="#1c1c1c" stroke-width="1.72" stroke-linejoin="round" stroke-linecap="round" />
<path d="M337.6,421 Q336.6,414.6 341.6,412.4 Q346,411 349,414.6 Q355,422.6 357,431.6 Q357.6,435.6 354,435 Q345.6,433.6 340.4,427 Z" fill="#fff" stroke="#1c1c1c" stroke-width="1.15" stroke-linejoin="round" stroke-linecap="round" />
<ellipse cx="346.4" cy="422.6" rx="4.6" ry="7.6" transform="rotate(-22 346.4 422.6)" fill="#fff" stroke="#1c1c1c" stroke-width="1.03" />
<ellipse cx="347.4" cy="423.4" rx="3.4" ry="6.0" transform="rotate(-22 347.4 423.4)" fill="#fff" stroke="#1c1c1c" stroke-width="0.8" />
<ellipse cx="336.6" cy="414.6" rx="0.7" ry="0.7" transform="rotate(0 336.6 414.6)" fill="#1c1c1c" stroke="#1c1c1c" stroke-width="0.69" />
<ellipse cx="348.6" cy="410.4" rx="0.7" ry="0.7" transform="rotate(0 348.6 410.4)" fill="#1c1c1c" stroke="#1c1c1c" stroke-width="0.69" />
<ellipse cx="358.6" cy="434.6" rx="0.7" ry="0.7" transform="rotate(0 358.6 434.6)" fill="#1c1c1c" stroke="#1c1c1c" stroke-width="0.69" />
<ellipse cx="346.6" cy="448.6" rx="4.6" ry="6.6" transform="rotate(-25 346.6 448.6)" fill="#fff" stroke="#1c1c1c" stroke-width="1.26" />
<ellipse cx="346.8" cy="448.8" rx="2.4" ry="3.6" transform="rotate(-25 346.8 448.8)" fill="#fff" stroke="#1c1c1c" stroke-width="1.03" />
<ellipse cx="347.8" cy="460.4" rx="1.2" ry="1.7" transform="rotate(-25 347.8 460.4)" fill="#fff" stroke="#1c1c1c" stroke-width="0.92" />
<path d="M309.9,433 Q310.6,430 313,428.5 L319.4,425.1 Q321.4,424.6 322.4,426 L324,431.2 L326.2,440.3 L328.6,449.3 Q328.8,450.8 327.6,450.8 L322,449.7 Q319,448.6 317.6,446.6 L313,441.2 Q310.6,438 309.9,433 Z" fill="#fff" stroke="#1c1c1c" stroke-width="1.49" stroke-linejoin="round" stroke-linecap="round" />
<path d="M312.6,433 Q313,430.6 315,429.4 L319.4,427.6 Q320.6,427.4 321,428.6 L322.4,436 Q320.6,438.6 318.6,440.6 L315.4,439.6 Q313,436.6 312.6,433 Z" fill="#fff" stroke="#1c1c1c" stroke-width="1.15" stroke-linejoin="round" stroke-linecap="round" />
<path d="M322.8,440 L324.8,446.8 L319.4,444.6 Z" fill="#fff" stroke="#1c1c1c" stroke-width="1.49" stroke-linejoin="round" stroke-linecap="round" />
<ellipse cx="312.4" cy="431.0" rx="0.6" ry="0.6" transform="rotate(0 312.4 431.0)" fill="#1c1c1c" stroke="#1c1c1c" stroke-width="0.69" />
<ellipse cx="320.6" cy="426.6" rx="0.6" ry="0.6" transform="rotate(0 320.6 426.6)" fill="#1c1c1c" stroke="#1c1c1c" stroke-width="0.69" />
<ellipse cx="326.6" cy="448.6" rx="0.6" ry="0.6" transform="rotate(0 326.6 448.6)" fill="#1c1c1c" stroke="#1c1c1c" stroke-width="0.69" />
<ellipse cx="331.6" cy="431.8" rx="5.4" ry="9.2" transform="rotate(-27 331.6 431.8)" fill="#1a1a1a" stroke="#1c1c1c" stroke-width="1.38" />
<ellipse cx="328.8" cy="433.4" rx="5.4" ry="9.2" transform="rotate(-27 328.8 433.4)" fill="#fff" stroke="#1c1c1c" stroke-width="1.61" />
<ellipse cx="329.2" cy="433.2" rx="3.8" ry="7.0" transform="rotate(-27 329.2 433.2)" fill="#fff" stroke="#1c1c1c" stroke-width="1.61" />
<ellipse cx="329.6" cy="433.2" rx="2.2" ry="4.6" transform="rotate(-27 329.6 433.2)" fill="#fff" stroke="#1c1c1c" stroke-width="1.38" />
<ellipse cx="329.8" cy="433.2" rx="1.1" ry="2.6" transform="rotate(-27 329.8 433.2)" fill="#fff" stroke="#1c1c1c" stroke-width="0.8" />
<path d="M295.6,444.6 Q294.6,442 296.6,440.4 L297.3,438 L302,435.7 L317,445.8 L319.4,450 Q320,455.6 317,458 Q315.4,459.6 313,458.4 Z" fill="#fff" stroke="#1c1c1c" stroke-width="1.15" stroke-linejoin="round" stroke-linecap="round" />
<path d="M297.3,438.0 L302.0,435.7 L317.2,445.8 L317.8,451.8 L313.4,454.4 L296.7,442.8 Z" fill="#1a1a1a" stroke="#1c1c1c" stroke-width="0.92" stroke-linejoin="round" stroke-linecap="round" />
<line x1="298.4" y1="438.4" x2="297.8" y2="443.4" stroke="#aaa" stroke-width="0.4" />
<line x1="300.7" y1="439.9" x2="300.1" y2="445.0" stroke="#aaa" stroke-width="0.4" />
<line x1="303.0" y1="441.4" x2="302.4" y2="446.6" stroke="#aaa" stroke-width="0.4" />
<line x1="305.3" y1="443.0" x2="304.7" y2="448.2" stroke="#aaa" stroke-width="0.4" />
<line x1="307.6" y1="444.5" x2="307.0" y2="449.8" stroke="#aaa" stroke-width="0.4" />
<line x1="309.9" y1="446.0" x2="309.3" y2="451.4" stroke="#aaa" stroke-width="0.4" />
<line x1="312.2" y1="447.5" x2="311.6" y2="453.1" stroke="#aaa" stroke-width="0.4" />
<ellipse cx="298.4" cy="446.0" rx="0.7" ry="0.7" transform="rotate(0 298.4 446.0)" fill="#fff" stroke="#1c1c1c" stroke-width="0.69" />
<ellipse cx="314.6" cy="456.4" rx="0.7" ry="0.7" transform="rotate(0 314.6 456.4)" fill="#fff" stroke="#1c1c1c" stroke-width="0.69" />
<path d="M286.9,448.5 L294.1,444.3 L293.1,442.5 L285.9,446.7 Z" fill="#fff" stroke="#1c1c1c" stroke-width="0.92" stroke-linejoin="round" stroke-linecap="round" />
<ellipse cx="287.1" cy="447.2" rx="1.6" ry="2.4" transform="rotate(-30.25643716352938 287.1 447.2)" fill="#fff" stroke="#1c1c1c" stroke-width="1.15" />
<path d="M278.9,459.9 L286.1,455.5 L285.1,453.7 L277.9,458.1 Z" fill="#fff" stroke="#1c1c1c" stroke-width="0.92" stroke-linejoin="round" stroke-linecap="round" />
<ellipse cx="279.1" cy="458.6" rx="1.6" ry="2.4" transform="rotate(-31.429565614838225 279.1 458.6)" fill="#fff" stroke="#1c1c1c" stroke-width="1.15" />
<path d="M295.1,468.9 L302.5,464.5 L301.5,462.7 L294.1,467.1 Z" fill="#fff" stroke="#1c1c1c" stroke-width="0.92" stroke-linejoin="round" stroke-linecap="round" />
<ellipse cx="295.3" cy="467.6" rx="1.6" ry="2.4" transform="rotate(-30.73548770192005 295.3 467.6)" fill="#fff" stroke="#1c1c1c" stroke-width="1.15" />
<ellipse cx="291.0" cy="450.8" rx="1.2" ry="1.4" transform="rotate(0 291.0 450.8)" fill="#1c1c1c" stroke="#1c1c1c" stroke-width="0.92" />
<ellipse cx="307.6" cy="460.4" rx="1.2" ry="1.4" transform="rotate(0 307.6 460.4)" fill="#1c1c1c" stroke="#1c1c1c" stroke-width="0.92" />
<ellipse cx="285.0" cy="445.4" rx="0.9" ry="1.1" transform="rotate(0 285.0 445.4)" fill="#1c1c1c" stroke="#1c1c1c" stroke-width="0.69" />
<path d="M327.6,454.4 L333.6,451.6 L338.6,459.6 L333.0,463.6 Z" fill="#fff" stroke="#fff" stroke-width="0.11" stroke-linejoin="round" stroke-linecap="round" />
<ellipse cx="334.4" cy="456.6" rx="4.0" ry="5.4" transform="rotate(-28 334.4 456.6)" fill="#fff" stroke="#1c1c1c" stroke-width="1.15" />
<path d="M331,452.6 L334,451.2 M331.6,463.4 L336,461.6" fill="none" stroke="#1c1c1c" stroke-width="1.03" stroke-linejoin="round" stroke-linecap="round" />
<ellipse cx="331.4" cy="458.0" rx="4.0" ry="5.4" transform="rotate(-28 331.4 458.0)" fill="#fff" stroke="#1c1c1c" stroke-width="1.38" />
<path d="M330.0,467.0 L334.6,465.4 L337.4,469.6 L333.0,472.6 Z" fill="#fff" stroke="#1c1c1c" stroke-width="1.03" stroke-linejoin="round" stroke-linecap="round" />
<ellipse cx="331.6" cy="469.8" rx="1.7" ry="2.6" transform="rotate(-28 331.6 469.8)" fill="#ddd" stroke="#1c1c1c" stroke-width="1.15" />
<ellipse cx="335.6" cy="467.6" rx="1.5" ry="2.3" transform="rotate(-28 335.6 467.6)" fill="#fff" stroke="#1c1c1c" stroke-width="0.92" />
</g>
<g id="right">
<path d="M430.0,369.4 L461.0,353.6 L465.4,361.0 L434.6,377.0 Z" fill="#fff" stroke="#1c1c1c" stroke-width="1.26" stroke-linejoin="round" stroke-linecap="round" />
<ellipse cx="463.2" cy="357.2" rx="2.3" ry="4.2" transform="rotate(-30 463.2 357.2)" fill="#fff" stroke="#1c1c1c" stroke-width="1.03" />
<path d="M438.6,365.2 q2.6,2.6 3.4,6.6" fill="none" stroke="#1c1c1c" stroke-width="1.03" stroke-linejoin="round" stroke-linecap="round" />
<path d="M440.8,364 q2.6,2.6 3.4,6.6" fill="none" stroke="#1c1c1c" stroke-width="1.03" stroke-linejoin="round" stroke-linecap="round" />
<path d="M451.2,358.8 q2.6,2.6 3.4,6.6" fill="none" stroke="#1c1c1c" stroke-width="1.03" stroke-linejoin="round" stroke-linecap="round" />
<path d="M420,381.4 Q421.6,387.6 425.6,390.6 Q429.6,393.4 433.4,393.4 Q439.6,393 443,389 Q446.4,385.6 445.8,383 Q445,379.4 441.4,379.4 L434.6,382 Q433.4,379 433.4,375 L430,370 Z" fill="#fff" stroke="#1c1c1c" stroke-width="1.38" stroke-linejoin="round" stroke-linecap="round" />
<path d="M434.6,382 L442.8,378.6 M436.2,386.2 L445,382.8 M436.2,386.2 Q435,384 434.6,382 M437.4,390 Q436.6,388 436.2,386.2" fill="none" stroke="#1c1c1c" stroke-width="1.15" stroke-linejoin="round" stroke-linecap="round" />
<ellipse cx="430.6" cy="367.6" rx="3.2" ry="7.0" transform="rotate(-30 430.6 367.6)" fill="#fff" stroke="#1c1c1c" stroke-width="1.26" />
<ellipse cx="428.2" cy="368.6" rx="3.2" ry="7.0" transform="rotate(-30 428.2 368.6)" fill="#fff" stroke="#1c1c1c" stroke-width="1.26" />
<path d="M408.1,373.7 L424.6,362.4 L431.4,374.2 L414.7,382 Z" fill="#fff" stroke="#fff" stroke-width="0.11" stroke-linejoin="round" stroke-linecap="round" />
<line x1="408.1" y1="373.7" x2="424.8" y2="362.4" stroke="#1c1c1c" stroke-width="1.38" />
<line x1="414.7" y1="382.0" x2="431.6" y2="374.4" stroke="#1c1c1c" stroke-width="1.38" />
<path d="M411.6,371.4 q3.2,3.2 4.2,8.6 M413.6,370 q3.2,3.2 4.2,8.6" fill="none" stroke="#1c1c1c" stroke-width="1.03" stroke-linejoin="round" stroke-linecap="round" />
<path d="M408.1,373.7 Q403.6,377 401.6,382 L399.8,386.8 L406.4,392.6 Q408.6,386.6 414.7,382 Z" fill="#fff" stroke="#1c1c1c" stroke-width="1.38" stroke-linejoin="round" stroke-linecap="round" />
<path d="M408.1,373.7 L414.7,382" fill="none" stroke="#fff" stroke-width="0.11" stroke-linejoin="round" stroke-linecap="round" />
<path d="M403,381 Q405.6,383.4 408.6,386.6" fill="none" stroke="#1c1c1c" stroke-width="0.92" stroke-linejoin="round" stroke-linecap="round" />
<path d="M399.4,387.6 L402.6,385.0 L406.8,391.6 L403.4,394.6 Z" fill="#fff" stroke="#1c1c1c" stroke-width="1.15" stroke-linejoin="round" stroke-linecap="round" />
<ellipse cx="401.4" cy="391.0" rx="1.6" ry="3.0" transform="rotate(-30 401.4 391.0)" fill="#fff" stroke="#1c1c1c" stroke-width="1.15" />
<ellipse cx="467.4" cy="352.4" rx="6.4" ry="10.2" transform="rotate(-30 467.4 352.4)" fill="#fff" stroke="#1c1c1c" stroke-width="2.3" />
<ellipse cx="467.6" cy="352.6" rx="4.4" ry="7.6" transform="rotate(-30 467.6 352.6)" fill="#fff" stroke="#1c1c1c" stroke-width="1.84" />
<ellipse cx="468.2" cy="353.0" rx="2.6" ry="5.0" transform="rotate(-30 468.2 353.0)" fill="#fff" stroke="#1c1c1c" stroke-width="1.15" />
<path d="M460,349 Q458.6,354 461.6,360.4" fill="none" stroke="#1c1c1c" stroke-width="1.15" stroke-linejoin="round" stroke-linecap="round" />
<ellipse cx="478.0" cy="346.6" rx="5.2" ry="8.6" transform="rotate(-30 478.0 346.6)" fill="#fff" stroke="#1c1c1c" stroke-width="1.84" />
<ellipse cx="478.4" cy="346.8" rx="3.4" ry="6.0" transform="rotate(-30 478.4 346.8)" fill="#fff" stroke="#1c1c1c" stroke-width="1.38" />
<ellipse cx="478.8" cy="347.0" rx="2.0" ry="4.0" transform="rotate(-30 478.8 347.0)" fill="#fff" stroke="#1c1c1c" stroke-width="0.92" />
<path d="M493.7,314.5 L499.5,303 L503,296.5 L513,302 Q524,308 532.4,326 Q536.8,334 536.2,338.4 Q535.4,342 533,343.6 L526,349.4 Q520,352.8 514.6,353.6 L508,352 Z" fill="#fff" stroke="#1c1c1c" stroke-width="1.38" stroke-linejoin="round" stroke-linecap="round" />
<path d="M499.5,303 L503,296.5 L513,302 L516,304.4 L512,307 Q506,302.6 499.5,303 Z" fill="#fff" stroke="#1c1c1c" stroke-width="1.15" stroke-linejoin="round" stroke-linecap="round" />
<ellipse cx="505.4" cy="299.6" rx="1.7" ry="1.2" transform="rotate(25 505.4 299.6)" fill="#fff" stroke="#1c1c1c" stroke-width="1.03" />
<ellipse cx="515.0" cy="304.6" rx="1.2" ry="1.2" transform="rotate(0 515.0 304.6)" fill="#fff" stroke="#1c1c1c" stroke-width="1.03" />
<path d="M514,306.4 Q522.6,311 529.6,326 Q533.6,335 532.6,339.6 Q531.6,343 528,345.6 L522,349" fill="none" stroke="#1c1c1c" stroke-width="2.53" stroke-linejoin="round" stroke-linecap="round" />
<path d="M509,308.4 Q518.6,311.6 525.6,326.6 Q529,335 528,339.6 Q526.6,343.6 521.6,346.6" fill="none" stroke="#1c1c1c" stroke-width="1.26" stroke-linejoin="round" stroke-linecap="round" />
<path d="M497.6,315.6 Q499.6,309 506,308.6 M497.6,315.6 L512.6,350" fill="none" stroke="#1c1c1c" stroke-width="1.15" stroke-linejoin="round" stroke-linecap="round" />
<ellipse cx="512.0" cy="325.6" rx="6.8" ry="10.6" transform="rotate(-30 512.0 325.6)" fill="#fff" stroke="#1c1c1c" stroke-width="1.95" />
<ellipse cx="512.6" cy="326.0" rx="5.0" ry="8.4" transform="rotate(-30 512.6 326.0)" fill="#fff" stroke="#1c1c1c" stroke-width="1.15" />
<ellipse cx="513.6" cy="326.8" rx="3.7" ry="6.4" transform="rotate(-30 513.6 326.8)" fill="#fff" stroke="#1c1c1c" stroke-width="1.72" />
<ellipse cx="514.2" cy="327.2" rx="2.3" ry="4.6" transform="rotate(-30 514.2 327.2)" fill="#fff" stroke="#1c1c1c" stroke-width="1.03" />
<path d="M502,311.6 Q500,318 504,327 M505.4,310.4 Q504,315 506.6,321" fill="none" stroke="#1c1c1c" stroke-width="1.49" stroke-linejoin="round" stroke-linecap="round" />
<path d="M520,314.6 Q524.6,321 526.6,329" fill="none" stroke="#1c1c1c" stroke-width="1.84" stroke-linejoin="round" stroke-linecap="round" />
<path d="M513,339.6 L521,345.6 M517,338 L524.6,343" fill="none" stroke="#1c1c1c" stroke-width="1.72" stroke-linejoin="round" stroke-linecap="round" />
<path d="M507.6,340.6 Q510.6,347 516,349.6" fill="none" stroke="#1c1c1c" stroke-width="1.61" stroke-linejoin="round" stroke-linecap="round" />
<path d="M521.6,333 L527,337.6" fill="none" stroke="#1c1c1c" stroke-width="1.61" stroke-linejoin="round" stroke-linecap="round" />
<ellipse cx="498.0" cy="314.6" rx="1.0" ry="1.0" transform="rotate(0 498.0 314.6)" fill="#fff" stroke="#1c1c1c" stroke-width="0.92" />
<ellipse cx="532.6" cy="338.0" rx="1.0" ry="1.0" transform="rotate(0 532.6 338.0)" fill="#fff" stroke="#1c1c1c" stroke-width="0.92" />
<ellipse cx="513.4" cy="351.4" rx="1.0" ry="1.0" transform="rotate(0 513.4 351.4)" fill="#fff" stroke="#1c1c1c" stroke-width="0.92" />
<path d="M474.6,327 Q473.4,321.6 477,319.6 Q484,314.6 491,313.4 Q494.6,312.4 497,315.2 Q509,328 513.2,347.4 Q514.6,351.8 511,353.8 Q504,359.6 496.6,361.8 Q492.6,363.2 490.4,360.2 Q479,346 474.6,327 Z" fill="#fff" stroke="#1c1c1c" stroke-width="1.26" stroke-linejoin="round" stroke-linecap="round" />
<path d="M477.2,326.8 Q476.4,323.4 479.2,321.6 Q485,317.6 491,316.4 Q493.6,315.8 495.2,317.8 Q506.6,330 510.6,347.8 Q511.2,350.4 509,352 Q503,357 496.6,359 Q493.8,360 492.4,357.8 Q481.6,344.6 477.2,326.8 Z" fill="#fff" stroke="#1c1c1c" stroke-width="1.15" stroke-linejoin="round" stroke-linecap="round" />
<ellipse cx="475.8" cy="323.8" rx="0.8" ry="0.8" transform="rotate(0 475.8 323.8)" fill="#fff" stroke="#1c1c1c" stroke-width="0.8" />
<ellipse cx="493.8" cy="314.6" rx="0.8" ry="0.8" transform="rotate(0 493.8 314.6)" fill="#fff" stroke="#1c1c1c" stroke-width="0.8" />
<ellipse cx="512.6" cy="350.6" rx="0.8" ry="0.8" transform="rotate(0 512.6 350.6)" fill="#fff" stroke="#1c1c1c" stroke-width="0.8" />
<ellipse cx="493.6" cy="360.8" rx="0.8" ry="0.8" transform="rotate(0 493.6 360.8)" fill="#fff" stroke="#1c1c1c" stroke-width="0.8" />
<path d="M472.4,324.6 L474.6,323.6 L475.4,327.0 L473.4,328.0 Z" fill="#fff" stroke="#1c1c1c" stroke-width="0.92" stroke-linejoin="round" stroke-linecap="round" />
<path d="M504.4,277 Q504.4,274.6 507.4,274.6 Q510.4,274.6 510.4,277 L510.4,284 Q510.4,286.4 507.4,286.4 Q504.4,286.4 504.4,284 Z" fill="#fff" stroke="#1c1c1c" stroke-width="1.03" stroke-linejoin="round" stroke-linecap="round" />
<path d="M504.4,278 Q507.4,279.6 510.4,278" fill="none" stroke="#1c1c1c" stroke-width="0.8" stroke-linejoin="round" stroke-linecap="round" />
<path d="M521.2,302.5 L528.2,298.7 L527.0,296.5 L520.0,300.3 Z" fill="#fff" stroke="#1c1c1c" stroke-width="1.03" stroke-linejoin="round" stroke-linecap="round" />
<ellipse cx="520.9" cy="301.3" rx="1.6" ry="2.6" transform="rotate(-28.495638618244694 520.9 301.3)" fill="#fff" stroke="#1c1c1c" stroke-width="1.15" />
<path d="M527.6,300.1 L529.9,298.9 L527.8,295.0 L525.5,296.2 Z" fill="#fff" stroke="#1c1c1c" stroke-width="1.03" stroke-linejoin="round" stroke-linecap="round" />
<path d="M540.0,334.0 L547.2,330.0 L546.0,328.0 L538.8,332.0 Z" fill="#fff" stroke="#1c1c1c" stroke-width="1.03" stroke-linejoin="round" stroke-linecap="round" />
<ellipse cx="539.7" cy="332.9" rx="1.6" ry="2.6" transform="rotate(-29.054604099076993 539.7 332.9)" fill="#fff" stroke="#1c1c1c" stroke-width="1.15" />
<path d="M546.6,331.5 L548.9,330.2 L546.8,326.4 L544.5,327.7 Z" fill="#fff" stroke="#1c1c1c" stroke-width="1.03" stroke-linejoin="round" stroke-linecap="round" />
<ellipse cx="533.2" cy="294.0" rx="1.2" ry="1.8" transform="rotate(-30 533.2 294.0)" fill="#fff" stroke="#1c1c1c" stroke-width="1.49" />
<ellipse cx="551.0" cy="325.6" rx="1.2" ry="1.8" transform="rotate(-30 551.0 325.6)" fill="#fff" stroke="#1c1c1c" stroke-width="1.49" />
</g>
<g id="flywheel">
<ellipse cx="582.9" cy="286.3" rx="52.9" ry="31.6" transform="rotate(60.0 582.9 286.3)" fill="#fff" stroke="#1c1c1c" stroke-width="1.49" />
<ellipse cx="580.7" cy="287.6" rx="52.9" ry="31.6" transform="rotate(60.0 580.7 287.6)" fill="none" stroke="#1c1c1c" stroke-width="0.92" />
<ellipse cx="578.5" cy="288.8" rx="52.9" ry="31.6" transform="rotate(60.0 578.5 288.8)" fill="none" stroke="#1c1c1c" stroke-width="0.92" />
<ellipse cx="576.5" cy="289.9" rx="52.9" ry="31.6" transform="rotate(60.0 576.5 289.9)" fill="none" stroke="#1c1c1c" stroke-width="0.92" />
<line x1="548.4" y1="245.0" x2="556.4" y2="240.5" stroke="#1c1c1c" stroke-width="1.15" />
<line x1="601.4" y1="336.6" x2="609.4" y2="332.1" stroke="#1c1c1c" stroke-width="1.15" />
<ellipse cx="574.9" cy="290.8" rx="52.9" ry="31.6" transform="rotate(60.0 574.9 290.8)" fill="#fff" stroke="#1c1c1c" stroke-width="1.61" />
<ellipse cx="574.9" cy="290.8" rx="49.2" ry="29.4" transform="rotate(60.0 574.9 290.8)" fill="none" stroke="#1c1c1c" stroke-width="0.92" />
<ellipse cx="574.9" cy="290.8" rx="45.5" ry="27.2" transform="rotate(60.0 574.9 290.8)" fill="#fff" stroke="#1c1c1c" stroke-width="1.84" />
<ellipse cx="577.5" cy="289.3" rx="45.5" ry="27.2" transform="rotate(60.0 577.5 289.3)" fill="none" stroke="#1c1c1c" stroke-width="0.92" />
<ellipse cx="578.9" cy="288.6" rx="42.3" ry="25.3" transform="rotate(60.0 578.9 288.6)" fill="none" stroke="#1c1c1c" stroke-width="1.15" />
<path d="M568.3,278.7 L556.3,250.2 L562.2,249.6 Z" fill="#fff" stroke="#1c1c1c" stroke-width="2.3" stroke-linejoin="round" stroke-linecap="round" />
<line x1="562.2" y1="249.6" x2="569.6" y2="250.6" stroke="#1c1c1c" stroke-width="1.03" />
<path d="M575.8,281.6 L579.4,256.2 L586.0,261.7 Z" fill="#fff" stroke="#1c1c1c" stroke-width="2.3" stroke-linejoin="round" stroke-linecap="round" />
<line x1="586.0" y1="261.7" x2="591.6" y2="264.0" stroke="#1c1c1c" stroke-width="1.03" />
<path d="M582.1,290.4 L600.7,282.2 L604.2,290.8 Z" fill="#fff" stroke="#1c1c1c" stroke-width="2.3" stroke-linejoin="round" stroke-linecap="round" />
<line x1="604.2" y1="290.8" x2="607.1" y2="291.9" stroke="#1c1c1c" stroke-width="1.03" />
<path d="M583.5,298.5 L607.3,308.2 L606.5,315.6 Z" fill="#fff" stroke="#1c1c1c" stroke-width="2.3" stroke-linejoin="round" stroke-linecap="round" />
<line x1="606.5" y1="315.6" x2="607.7" y2="314.2" stroke="#1c1c1c" stroke-width="1.03" />
<path d="M580.6,304.1 L600.0,327.8 L595.3,330.8 Z" fill="#fff" stroke="#1c1c1c" stroke-width="2.3" stroke-linejoin="round" stroke-linecap="round" />
<line x1="595.3" y1="330.8" x2="595.7" y2="326.4" stroke="#1c1c1c" stroke-width="1.03" />
<path d="M573.8,303.9 L580.0,330.4 L573.2,327.2 Z" fill="#fff" stroke="#1c1c1c" stroke-width="2.3" stroke-linejoin="round" stroke-linecap="round" />
<line x1="573.2" y1="327.2" x2="574.7" y2="320.7" stroke="#1c1c1c" stroke-width="1.03" />
<path d="M567.4,298.3 L559.2,315.0 L553.7,307.6 Z" fill="#fff" stroke="#1c1c1c" stroke-width="2.3" stroke-linejoin="round" stroke-linecap="round" />
<line x1="553.7" y1="307.6" x2="557.3" y2="301.1" stroke="#1c1c1c" stroke-width="1.03" />
<path d="M563.1,288.0 L543.5,283.0 L542.6,274.7 Z" fill="#fff" stroke="#1c1c1c" stroke-width="2.3" stroke-linejoin="round" stroke-linecap="round" />
<line x1="542.6" y1="274.7" x2="548.9" y2="270.6" stroke="#1c1c1c" stroke-width="1.03" />
<ellipse cx="574.5" cy="291.4" rx="16.4" ry="9.8" transform="rotate(60.0 574.5 291.4)" fill="#fff" stroke="#1c1c1c" stroke-width="2.18" />
<ellipse cx="572.3" cy="292.6" rx="13.2" ry="7.9" transform="rotate(60.0 572.3 292.6)" fill="#fff" stroke="#1c1c1c" stroke-width="1.49" />
<ellipse cx="567.9" cy="294.7" rx="7.9" ry="4.7" transform="rotate(60.0 567.9 294.7)" fill="#fff" stroke="#1c1c1c" stroke-width="1.38" />
<ellipse cx="567.7" cy="294.8" rx="4.2" ry="2.5" transform="rotate(60.0 567.7 294.8)" fill="#fff" stroke="#1c1c1c" stroke-width="1.03" />
<path d="M578.5,289.2 l6,-3.2 l1.4,2.4 l-6,3.2 Z" fill="#fff" stroke="#1c1c1c" stroke-width="1.15" stroke-linejoin="round" stroke-linecap="round" />
<path d="M539.6,288.0 L547.2,284.0 L548.4,286.4 L540.8,290.4 Z" fill="#fff" stroke="#1c1c1c" stroke-width="1.03" stroke-linejoin="round" stroke-linecap="round" />
<ellipse cx="540.2" cy="289.2" rx="1.1" ry="1.7" transform="rotate(-30 540.2 289.2)" fill="#fff" stroke="#1c1c1c" stroke-width="1.03" />
<path d="M556.4,320.4 L564.0,316.4 L565.2,318.8 L557.6,322.8 Z" fill="#fff" stroke="#1c1c1c" stroke-width="1.03" stroke-linejoin="round" stroke-linecap="round" />
<ellipse cx="557.0" cy="321.6" rx="1.1" ry="1.7" transform="rotate(-30 557.0 321.6)" fill="#fff" stroke="#1c1c1c" stroke-width="1.03" />
<ellipse cx="610.0" cy="267.4" rx="1.2" ry="2.0" transform="rotate(-30 610.0 267.4)" fill="#fff" stroke="#1c1c1c" stroke-width="1.38" />
<ellipse cx="614.6" cy="267.6" rx="1.3" ry="2.0" transform="rotate(-30 614.6 267.6)" fill="#fff" stroke="#1c1c1c" stroke-width="1.72" />
<path d="M619.2,264.0 L632.6,257.6 L633.8,260.2 L620.4,266.8 Z" fill="#fff" stroke="#1c1c1c" stroke-width="1.03" stroke-linejoin="round" stroke-linecap="round" />
<ellipse cx="619.8" cy="265.4" rx="1.0" ry="1.6" transform="rotate(-30 619.8 265.4)" fill="#fff" stroke="#1c1c1c" stroke-width="0.92" />
<path d="M632.0,256.2 L634.8,254.8 L637.0,259.8 L634.0,261.4 Z" fill="#333" stroke="#1c1c1c" stroke-width="1.15" stroke-linejoin="round" stroke-linecap="round" />
<line x1="562.4" y1="235.6" x2="546.4" y2="281.0" stroke="#1c1c1c" stroke-width="0.92" />
</g>
<g id="labels">
<text x="189.0" y="29.0">39</text>
<text x="203.0" y="48.0">6</text>
<text x="242.0" y="23.0">40</text>
<text x="269.0" y="34.0">41</text>
<text x="302.0" y="47.0">42</text>
<text x="345.0" y="66.0">43</text>
<text x="420.4" y="119.5">44</text>
<text x="41.0" y="115.0">37</text>
<text x="76.0" y="107.0">38</text>
<text x="7.0" y="140.0">36</text>
<text x="146.0" y="144.0">35</text>
<text x="151.0" y="167.5">34</text>
<text x="287.0" y="172.0">33</text>
<text x="309.0" y="192.0">32</text>
<text x="319.0" y="213.0">31</text>
<text x="314.0" y="231.0">6</text>
<text x="339.0" y="243.0">29</text>
<text x="204.0" y="268.0">30</text>
<text x="369.0" y="268.0">27</text>
<text x="222.0" y="297.0">28</text>
<text x="245.0" y="325.0">26</text>
<text x="268.0" y="339.0">25</text>
<text x="289.0" y="359.0">24</text>
<text x="360.0" y="333.5">23</text>
<text x="301.0" y="381.0">22</text>
<text x="303.0" y="395.0">21</text>
<text x="278.0" y="397.0">20</text>
<text x="246.0" y="396.0">19</text>
<text x="262.0" y="420.0">18</text>
<text x="236.0" y="430.0">17</text>
<text x="210.0" y="448.0">16</text>
<text x="272.0" y="490.0">15</text>
<text x="299.5" y="506.0">14</text>
<text x="410.0" y="333.0">13</text>
<text x="435.0" y="317.0">12</text>
<text x="434.0" y="284.0">11</text>
<text x="454.4" y="272.0">10</text>
<text x="479.5" y="258.5">9</text>
<text x="500.5" y="225.0">8</text>
<text x="524.5" y="208.5">7</text>
<text x="547.0" y="207.5">6</text>
<text x="575.5" y="207.5">5</text>
<text x="596.5" y="210.0">4</text>
<text x="618.0" y="207.0">3</text>
<text x="638.5" y="205.5">2</text>
<text x="653.0" y="208.5">1</text>
</g>
</svg>
</body></html>
